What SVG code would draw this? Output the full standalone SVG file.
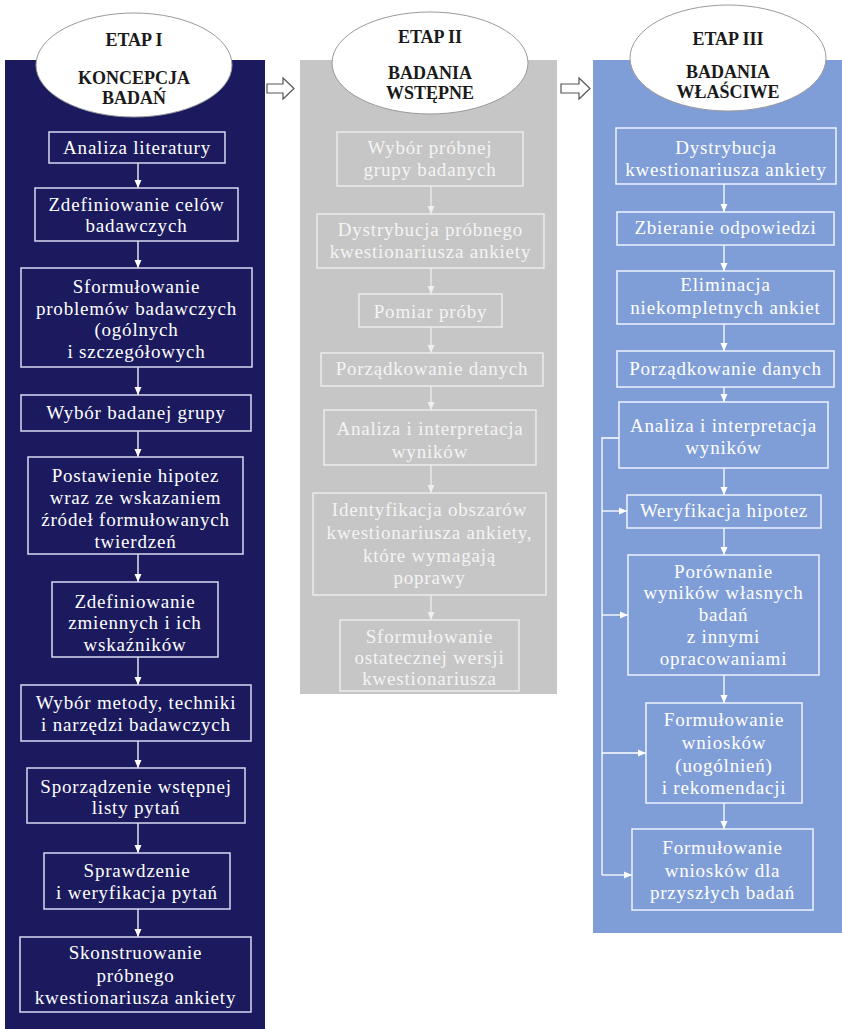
<svg xmlns="http://www.w3.org/2000/svg" width="842" height="1029" viewBox="0 0 842 1029">
<defs>
<style>
.col1{fill:#1b1a5e}
.col2{fill:#c6c6c6}
.col3{fill:#7f9ed8}
.ell{fill:#ffffff;stroke:#9a9a9a;stroke-width:1}
.h{font-family:"Liberation Serif","Times New Roman",serif;font-weight:bold;font-size:18px;fill:#1a1a1a;text-anchor:middle}
.t{font-family:"Liberation Serif","Times New Roman",serif;font-size:19px;letter-spacing:0.8px;fill:#ffffff;text-anchor:middle}
.t2{fill:#f4f4f4}
.b1{fill:none;stroke:#d9d9f2;stroke-width:1.5}
.b2{fill:none;stroke:#ececec;stroke-width:1.5}
.b3{fill:none;stroke:#eef2ff;stroke-width:1.5}
.c{fill:none;stroke:#ffffff;stroke-width:1.3}
.c2{fill:none;stroke:#efefef;stroke-width:1.3}
.ha{fill:#ffffff;stroke:#555555;stroke-width:1.2}
</style>
<marker id="ah" viewBox="0 0 8 8" refX="8" refY="4" markerWidth="8" markerHeight="8" markerUnits="userSpaceOnUse" orient="auto">
<path d="M0,0.5 L8,4 L0,7.5 Z" fill="#ffffff"/>
</marker>
<marker id="ah2" viewBox="0 0 8 8" refX="8" refY="4" markerWidth="8" markerHeight="8" markerUnits="userSpaceOnUse" orient="auto">
<path d="M0,0.5 L8,4 L0,7.5 Z" fill="#efefef"/>
</marker>
</defs>
<rect width="842" height="1029" fill="#ffffff"/>

<g id="columns">
<rect class="col1" x="5" y="60" width="260" height="969"/>
<rect class="col2" x="300" y="60" width="257" height="634"/>
<rect class="col3" x="593" y="60" width="249" height="873"/>
</g>

<g id="stage-arrows">
<path class="ha" d="M267,84 H283 V78 L294,88.5 L283,99 V93 H267 Z"/>
<path class="ha" d="M561,84 H579 V78 L590,88.5 L579,99 V93 H561 Z"/>
</g>

<g id="etap1">
<ellipse class="ell" cx="134" cy="65" rx="98" ry="52"/>
<text class="h" x="134" y="46">ETAP I</text>
<text class="h" x="134" y="84">KONCEPCJA</text>
<text class="h" x="134" y="104">BADAŃ</text>
</g>
<g id="etap2">
<ellipse class="ell" cx="430" cy="63" rx="98" ry="51"/>
<text class="h" x="430" y="43">ETAP II</text>
<text class="h" x="430" y="79">BADANIA</text>
<text class="h" x="430" y="99">WSTĘPNE</text>
</g>
<g id="etap3">
<ellipse class="ell" cx="728" cy="58" rx="98" ry="53"/>
<text class="h" x="728" y="45">ETAP III</text>
<text class="h" x="728" y="78">BADANIA</text>
<text class="h" x="728" y="98">WŁAŚCIWE</text>
</g>

<g id="connectors">
<path class="c" marker-end="url(#ah)" d="M138,163 V188"/>
<path class="c" marker-end="url(#ah)" d="M138,241 V268"/>
<path class="c" marker-end="url(#ah)" d="M138,367 V395"/>
<path class="c" marker-end="url(#ah)" d="M138,431 V457"/>
<path class="c" marker-end="url(#ah)" d="M138,554 V582"/>
<path class="c" marker-end="url(#ah)" d="M138,657 V685"/>
<path class="c" marker-end="url(#ah)" d="M138,741 V768"/>
<path class="c" marker-end="url(#ah)" d="M138,823 V853"/>
<path class="c" marker-end="url(#ah)" d="M138,909 V937"/>

<path class="c2" marker-end="url(#ah2)" d="M431,186 V214"/>
<path class="c2" marker-end="url(#ah2)" d="M431,268 V294"/>
<path class="c2" marker-end="url(#ah2)" d="M431,327 V353"/>
<path class="c2" marker-end="url(#ah2)" d="M431,386 V410"/>
<path class="c2" marker-end="url(#ah2)" d="M431,465 V493"/>
<path class="c2" marker-end="url(#ah2)" d="M431,595 V620"/>

<path class="c" marker-end="url(#ah)" d="M724,184 V212"/>
<path class="c" marker-end="url(#ah)" d="M724,245 V271"/>
<path class="c" marker-end="url(#ah)" d="M724,324 V351"/>
<path class="c" marker-end="url(#ah)" d="M724,387 V402"/>
<path class="c" marker-end="url(#ah)" d="M724,468 V495"/>
<path class="c" marker-end="url(#ah)" d="M724,528 V555"/>
<path class="c" marker-end="url(#ah)" d="M724,675 V703"/>
<path class="c" marker-end="url(#ah)" d="M724,803 V829"/>

<path class="c" d="M619,438 H602 V875"/>
<path class="c" marker-end="url(#ah)" d="M602,511 H627"/>
<path class="c" marker-end="url(#ah)" d="M602,615 H628"/>
<path class="c" marker-end="url(#ah)" d="M602,753 H646"/>
<path class="c" marker-end="url(#ah)" d="M602,875 H632"/>
</g>

<g id="s1-n1"><rect class="b1" x="49" y="132" width="176" height="31"/>
<text class="t" x="137" y="154">Analiza literatury</text></g>
<g id="s1-n2"><rect class="b1" x="35" y="188" width="203" height="53"/>
<text class="t" x="136.5" y="211">Zdefiniowanie celów</text>
<text class="t" x="136.5" y="232">badawczych</text></g>
<g id="s1-n3"><rect class="b1" x="21" y="268" width="231" height="99"/>
<text class="t" x="136.5" y="293">Sformułowanie</text>
<text class="t" x="136.5" y="314.5">problemów badawczych</text>
<text class="t" x="136.5" y="336">(ogólnych</text>
<text class="t" x="136.5" y="358">i szczegółowych</text></g>
<g id="s1-n4"><rect class="b1" x="21" y="395" width="230" height="36"/>
<text class="t" x="136" y="419">Wybór badanej grupy</text></g>
<g id="s1-n5"><rect class="b1" x="28" y="457" width="215" height="97"/>
<text class="t" x="135.5" y="482">Postawienie hipotez</text>
<text class="t" x="135.5" y="504">wraz ze wskazaniem</text>
<text class="t" x="135.5" y="526">źródeł formułowanych</text>
<text class="t" x="135.5" y="548">twierdzeń</text></g>
<g id="s1-n6"><rect class="b1" x="52" y="582" width="166" height="75"/>
<text class="t" x="135" y="608">Zdefiniowanie</text>
<text class="t" x="135" y="629">zmiennych i ich</text>
<text class="t" x="135" y="651">wskaźników</text></g>
<g id="s1-n7"><rect class="b1" x="21" y="685" width="230" height="56"/>
<text class="t" x="136" y="709">Wybór metody, techniki</text>
<text class="t" x="136" y="731">i narzędzi badawczych</text></g>
<g id="s1-n8"><rect class="b1" x="27" y="768" width="218" height="55"/>
<text class="t" x="136" y="793">Sporządzenie wstępnej</text>
<text class="t" x="136" y="814">listy pytań</text></g>
<g id="s1-n9"><rect class="b1" x="44" y="853" width="186" height="56"/>
<text class="t" x="137" y="877">Sprawdzenie</text>
<text class="t" x="137" y="899">i weryfikacja pytań</text></g>
<g id="s1-n10"><rect class="b1" x="20" y="937" width="231" height="75"/>
<text class="t" x="135.5" y="959">Skonstruowanie</text>
<text class="t" x="135.5" y="982">próbnego</text>
<text class="t" x="135.5" y="1004">kwestionariusza ankiety</text></g>

<g id="s2-n1"><rect class="b2" x="337" y="132" width="186" height="54"/>
<text class="t t2" x="430" y="154">Wybór próbnej</text>
<text class="t t2" x="430" y="176">grupy badanych</text></g>
<g id="s2-n2"><rect class="b2" x="317" y="214" width="227" height="54"/>
<text class="t t2" x="430.5" y="236">Dystrybucja próbnego</text>
<text class="t t2" x="430.5" y="258">kwestionariusza ankiety</text></g>
<g id="s2-n3"><rect class="b2" x="359" y="294" width="143" height="33"/>
<text class="t t2" x="430.5" y="318">Pomiar próby</text></g>
<g id="s2-n4"><rect class="b2" x="321" y="353" width="222" height="33"/>
<text class="t t2" x="432" y="375">Porządkowanie danych</text></g>
<g id="s2-n5"><rect class="b2" x="324" y="410" width="212" height="55"/>
<text class="t t2" x="430" y="435">Analiza i interpretacja</text>
<text class="t t2" x="430" y="458">wyników</text></g>
<g id="s2-n6"><rect class="b2" x="313" y="493" width="233" height="102"/>
<text class="t t2" x="429.5" y="516">Identyfikacja obszarów</text>
<text class="t t2" x="429.5" y="539">kwestionariusza ankiety,</text>
<text class="t t2" x="429.5" y="562">które wymagają</text>
<text class="t t2" x="429.5" y="584">poprawy</text></g>
<g id="s2-n7"><rect class="b2" x="340" y="620" width="179" height="71"/>
<text class="t t2" x="429.5" y="643">Sformułowanie</text>
<text class="t t2" x="429.5" y="664">ostatecznej wersji</text>
<text class="t t2" x="429.5" y="685">kwestionariusza</text></g>

<g id="s3-n1"><rect class="b3" x="616" y="128" width="220" height="56"/>
<text class="t" x="726" y="154">Dystrybucja</text>
<text class="t" x="726" y="176">kwestionariusza ankiety</text></g>
<g id="s3-n2"><rect class="b3" x="617" y="212" width="217" height="33"/>
<text class="t" x="725.5" y="234">Zbieranie odpowiedzi</text></g>
<g id="s3-n3"><rect class="b3" x="617" y="271" width="217" height="53"/>
<text class="t" x="725.5" y="291">Eliminacja</text>
<text class="t" x="725.5" y="314">niekompletnych ankiet</text></g>
<g id="s3-n4"><rect class="b3" x="617" y="351" width="217" height="36"/>
<text class="t" x="725.5" y="375">Porządkowanie danych</text></g>
<g id="s3-n5"><rect class="b3" x="619" y="402" width="209" height="66"/>
<text class="t" x="723.5" y="432">Analiza i interpretacja</text>
<text class="t" x="723.5" y="454">wyników</text></g>
<g id="s3-n6"><rect class="b3" x="627" y="495" width="194" height="33"/>
<text class="t" x="724" y="517">Weryfikacja hipotez</text></g>
<g id="s3-n7"><rect class="b3" x="628" y="555" width="191" height="120"/>
<text class="t" x="723.5" y="578">Porównanie</text>
<text class="t" x="723.5" y="599">wyników własnych</text>
<text class="t" x="723.5" y="621">badań</text>
<text class="t" x="723.5" y="643">z innymi</text>
<text class="t" x="723.5" y="665">opracowaniami</text></g>
<g id="s3-n8"><rect class="b3" x="646" y="703" width="156" height="100"/>
<text class="t" x="724" y="726">Formułowanie</text>
<text class="t" x="724" y="749">wniosków</text>
<text class="t" x="724" y="772">(uogólnień)</text>
<text class="t" x="724" y="794">i rekomendacji</text></g>
<g id="s3-n9"><rect class="b3" x="632" y="829" width="181" height="81"/>
<text class="t" x="722.5" y="854">Formułowanie</text>
<text class="t" x="722.5" y="877">wniosków dla</text>
<text class="t" x="722.5" y="899">przyszłych badań</text></g>
</svg>
